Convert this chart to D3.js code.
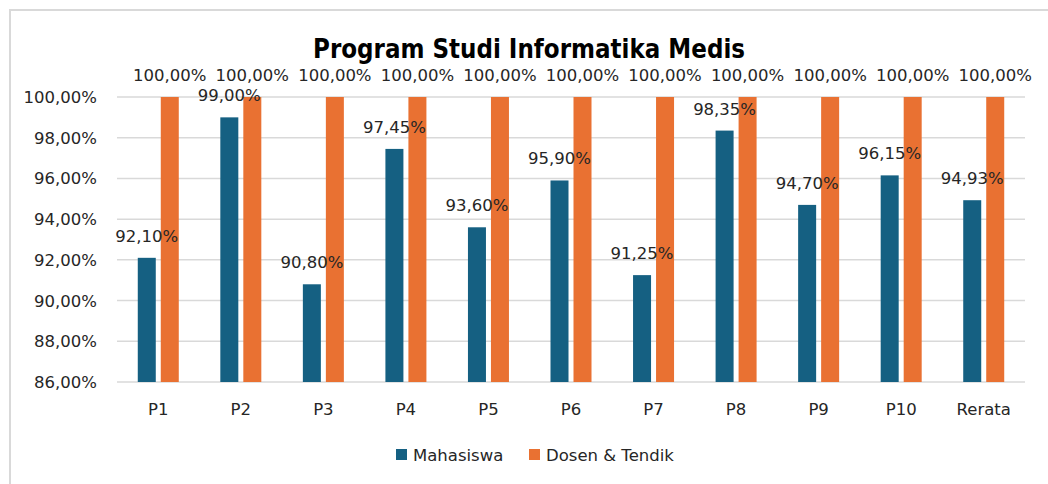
<!DOCTYPE html>
<html>
<head>
<meta charset="utf-8">
<script src="https://cdn.jsdelivr.net/npm/d3@7"></script>
<style>
	body { margin: 0; background: #fff; }
	svg text { font-family: "DejaVu Sans", sans-serif; fill: #262626; }
</style>
</head>
<body>
<svg id="chart0"></svg>
<script>
var categories = ['P1', 'P2', 'P3', 'P4', 'P5', 'P6', 'P7', 'P8', 'P9', 'P10', 'Rerata'];
var mahasiswa = [92.10, 99.00, 90.80, 97.45, 93.60, 95.90, 91.25, 98.35, 94.70, 96.15, 94.93];
var dosen = [100, 100, 100, 100, 100, 100, 100, 100, 100, 100, 100];
var y_ticks = [86, 88, 90, 92, 94, 96, 98, 100];
var series_names = ['Mahasiswa', 'Dosen & Tendik'];

var width = 1048;
var height = 484;
var plot = {'left': 117, 'right': 1025, 'top': 97, 'bottom': 382};
var colors = ['#156082', '#E97132'];
var bar_w = 18;
var gap = 5;
var fsize = '16.5px';

function fmt(v) {
	return v.toFixed(2).replace('.', ',') + '%';
}

var x_conv = d3.scaleBand()
	.domain(categories)
	.range([plot.left, plot.right]);

var y_conv = d3.scaleLinear()
	.domain([86, 100])
	.range([plot.bottom, plot.top]);

var svg = d3.select('#chart0')
	.attr('width', width)
	.attr('height', height);

// bordo del grafico (solo alto e sinistra visibili)
svg.append('path')
	.attr('d', 'M10,' + (height + 5) + ' V10 H' + (width + 5))
	.attr('fill', 'none')
	.attr('stroke', '#d9d9d9')
	.attr('stroke-width', 2);

// gridlines
svg.selectAll('line.grid')
	.data(y_ticks).enter()
	.append('line')
	.attr('x1', plot.left)
	.attr('x2', plot.right)
	.attr('y1', function(d) { return y_conv(d); })
	.attr('y2', function(d) { return y_conv(d); })
	.attr('stroke', '#d9d9d9')
	.attr('stroke-width', 1.5);

// y labels
svg.selectAll('text.ylab')
	.data(y_ticks).enter()
	.append('text')
	.attr('x', 97)
	.attr('y', function(d) { return y_conv(d); })
	.attr('dy', '0.36em')
	.attr('text-anchor', 'end')
	.style('font-size', fsize)
	.text(function(d) { return fmt(d); });

var all_series = [mahasiswa, dosen];

function bar_x(i, s) {
	var offset = s == 0 ? -gap / 2 - bar_w : gap / 2;
	return x_conv(categories[i]) + x_conv.bandwidth() / 2 + offset;
}

// prima le barre
all_series.forEach(function(values, s) {
	svg.selectAll('rect.s' + s)
		.data(values).enter()
		.append('rect')
		.attr('x', function(d, i) { return bar_x(i, s); })
		.attr('y', function(d) { return y_conv(d); })
		.attr('width', bar_w)
		.attr('height', function(d) { return y_conv(86) - y_conv(d); })
		.attr('fill', colors[s]);
});

// poi le etichette, sopra le barre
all_series.forEach(function(values, s) {
	svg.selectAll('text.lab' + s)
		.data(values).enter()
		.append('text')
		.attr('x', function(d, i) { return bar_x(i, s) + bar_w / 2; })
		.attr('y', function(d) { return y_conv(d) - 22; })
		.attr('dy', '0.36em')
		.attr('text-anchor', 'middle')
		.style('font-size', fsize)
		.text(function(d) { return fmt(d); });
});

// x labels
svg.selectAll('text.xlab')
	.data(categories).enter()
	.append('text')
	.attr('x', function(d) { return x_conv(d) + x_conv.bandwidth() / 2; })
	.attr('y', 409)
	.attr('dy', '0.36em')
	.attr('text-anchor', 'middle')
	.style('font-size', fsize)
	.text(function(d) { return d; });

// title
svg.append('text')
	.attr('x', 529)
	.attr('y', 58)
	.attr('text-anchor', 'middle')
	.attr('textLength', 432)
	.attr('lengthAdjust', 'spacingAndGlyphs')
	.style('font-size', '26px')
	.style('font-weight', 'bold')
	.style('fill', '#000')
	.text('Program Studi Informatika Medis');

// legend
var legend_x = [396, 529];
var legend = svg.selectAll('g.legend')
	.data(series_names).enter()
	.append('g')
	.attr('transform', function(d, i) { return 'translate(' + legend_x[i] + ',449)'; });

legend.append('rect')
	.attr('width', 11)
	.attr('height', 11)
	.attr('fill', function(d, i) { return colors[i]; });

legend.append('text')
	.attr('x', 17)
	.attr('y', 6)
	.attr('dy', '0.36em')
	.style('font-size', fsize)
	.text(function(d) { return d; });
</script>
</body>
</html>
